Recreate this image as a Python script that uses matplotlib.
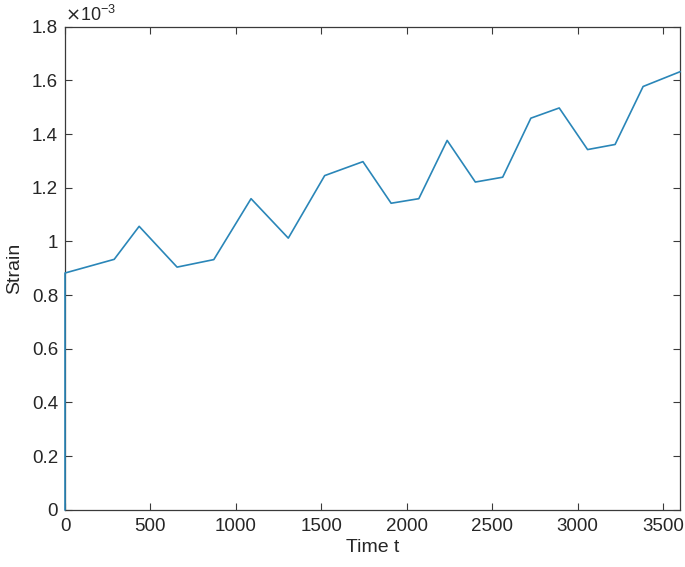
import matplotlib
matplotlib.use("Agg")
import matplotlib.pyplot as plt
from matplotlib.ticker import FuncFormatter

plt.rcParams['font.family'] = ['Liberation Sans', 'DejaVu Sans']

time_t = [0, 0, 288, 434, 656, 871, 1089, 1307, 1520, 1744, 1909, 2071, 2237,
          2402, 2562, 2727, 2893, 3059, 3220, 3384, 3600]
strain_e3 = [0.0, 0.882, 0.933, 1.056, 0.904, 0.932, 1.159, 1.012, 1.245, 1.297,
             1.142, 1.159, 1.376, 1.221, 1.239, 1.459, 1.497, 1.342, 1.361, 1.577, 1.632]
x_ticks = [0, 500, 1000, 1500, 2000, 2500, 3000, 3500]
y_ticks = [0, 0.2, 0.4, 0.6, 0.8, 1.0, 1.2, 1.4, 1.6, 1.8]

fig = plt.figure(figsize=(6.85, 5.67), dpi=100)
ax = fig.add_axes([0.0949, 0.101, 0.8978, 0.852])
ax.plot(time_t, strain_e3, color='#2a86b8', lw=1.2, clip_on=False, zorder=3)

ax.set_xlim(0, 3600)
ax.set_ylim(0, 1.8)
ax.set_xticks(x_ticks)
ax.set_yticks(y_ticks)
ax.yaxis.set_major_formatter(FuncFormatter(lambda v, p: f"{v:g}"))

axcol = '#3a3a3a'
for s in ax.spines.values():
    s.set_color(axcol)
    s.set_linewidth(0.9)
ax.tick_params(direction='in', length=5, width=0.8, color=axcol, labelsize=13.5,
               labelcolor='#262626', top=True, right=True)
ax.tick_params(axis='x', pad=6)
ax.tick_params(axis='y', pad=5)

ax.set_xlabel('Time t', fontsize=14, color='#262626', labelpad=3)
ax.set_ylabel('Strain', fontsize=14, color='#262626', labelpad=6)
ax.text(0.0, 1.004, r'$\times\mathregular{10^{-3}}$', transform=ax.transAxes,
        fontsize=13, color='#262626', ha='left', va='bottom')

fig.savefig('out.png', dpi=100)
